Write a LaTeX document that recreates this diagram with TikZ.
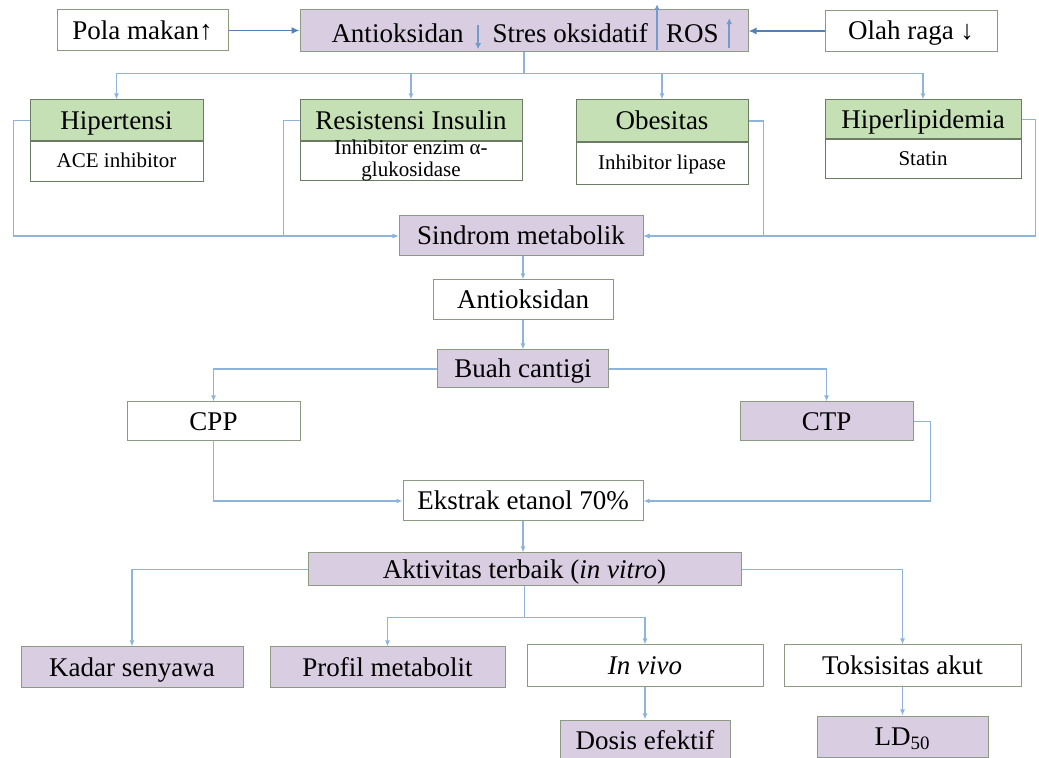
\documentclass[tikz,border=0pt]{standalone}
\usepackage{fontspec}
\setmainfont{Liberation Serif}
\usetikzlibrary{arrows.meta, positioning, calc}
\definecolor{clav}{HTML}{D9CDE1}
\definecolor{cgreen}{HTML}{C5E0B4}
\definecolor{cedge}{HTML}{8C9A84}
\definecolor{cline}{HTML}{8EB4DC}
\definecolor{cblue}{HTML}{4F81BD}
\tikzset{
  every picture/.style={line width=0.6pt},
  box/.style={draw=cedge, fill=#1, line width=0.5pt, inner sep=0pt, align=center, text height=11pt, text depth=2pt, font=\fontsize{13.5}{15}\selectfont},
  box/.default=white,
  headbox/.style={box=cgreen, draw=cgreen!55!black},
  subbox/.style={box, draw=cgreen!55!black, text height=8pt, text depth=2pt, font=\fontsize{10.5}{11}\selectfont},
  txt/.style={inner sep=0pt, font=\fontsize{13.5}{15}\selectfont},
  arrow/.style={-{Latex[length=3pt, width=2.5pt]}, draw=cline},
  link/.style={draw=cline},
  bigarrow/.style={-{Latex[length=4pt, width=3.5pt]}, draw=cblue, line width=0.9pt},
  updown/.style={-{Latex[length=3pt, width=3pt]}, draw=cblue!80, line width=1pt},
}

\begin{document}
\begin{tikzpicture}[x=0.5pt, y=-0.5pt]
  \useasboundingbox (0,0) rectangle (1039,758);
  % causes and oxidative stress
  \node[box, minimum width=85.5pt, minimum height=20.5pt] (pola) at (142.5,30.5) {Pola makan↑};
  \node[box=clav, minimum width=224pt, minimum height=21pt] (stres) at (524,31) {};
  \node[txt] (tAnti) at (397.5,33) {Antioksidan};
  \node[txt, base right=14pt of tAnti] (tStres) {Stres oksidatif};
  \node[txt, base right=8.5pt of tStres] (tRos) {ROS};
  \node[box, minimum width=86pt, minimum height=20.5pt] (olah) at (911,31) {Olah raga ↓};
  \draw[bigarrow] (pola.east) -- (pola.east -| stres.west);
  \draw[bigarrow] (olah.west) -- (olah.west -| stres.east);
  \draw[updown] ($(tAnti.base east)!.5!(tStres.base west)+(0,-17)$) -- ++(0,24);
  \draw[updown] ($(tStres.base east)!.5!(tRos.base west)+(0,8)$) -- ++(0,-46);
  \draw[updown] ($(tRos.base east)+(10,6)$) -- ++(0,-30);

  % the four disorders
  \node[headbox, minimum width=86.5pt, minimum height=20.5pt] (hip) at (116.5,120.5) {Hipertensi};
  \node[subbox, minimum width=86.5pt, minimum height=20pt, below=0pt of hip] (hipd) {ACE inhibitor};
  \node[headbox, minimum width=111pt, minimum height=20.5pt] (res) at (411,120.5) {Resistensi Insulin};
  \node[subbox, minimum width=111pt, minimum height=19.5pt, text height=0pt, text depth=0pt, below=0pt of res] (resd) {\raisebox{-2pt}{\smash{\parbox[c]{108pt}{\centering Inhibitor enzim α-\\glukosidase}}}};
  \node[headbox, minimum width=86pt, minimum height=21pt] (obe) at (662,121) {Obesitas};
  \node[subbox, minimum width=86pt, minimum height=21pt, below=0pt of obe] (obed) {Inhibitor lipase};
  \node[headbox, minimum width=98pt, minimum height=19.5pt] (hyp) at (923,119.5) {Hiperlipidemia};
  \node[subbox, minimum width=98pt, minimum height=19.5pt, below=0pt of hyp] (hypd) {Statin};
  \draw[link] (stres.south) -- ++(0,21) coordinate (split1);
  \foreach \n in {hip, res, obe, hyp} \draw[arrow] (split1) -| (\n.north);

  % metabolic syndrome
  \node[box=clav, minimum width=122pt, minimum height=20pt] (sind) at (521,236) {Sindrom metabolik};
  \foreach \n/\d in {hip/-16, res/-16} \draw[arrow] (\n.west) -- ++(\d,0) |- (sind.west);
  \foreach \n/\d in {obe/15, hyp/14} \draw[arrow] (\n.east) -- ++(\d,0) |- (sind.east);
  \node[box, minimum width=90pt, minimum height=20pt] (antiox) at (523,300) {Antioksidan};
  \node[box=clav, minimum width=85.5pt, minimum height=19pt] (buah) at (523,369) {Buah cantigi};
  \draw[arrow] (sind.south -| antiox.north) -- (antiox.north);
  \draw[arrow] (antiox.south) -- (buah.north);

  % extracts
  \node[box, minimum width=86.5pt, minimum height=19.5pt] (cpp) at (213.5,421.5) {CPP};
  \node[box=clav, minimum width=86.5pt, minimum height=19.5pt] (ctp) at (826.5,421.5) {CTP};
  \draw[arrow] (buah.west) -| (cpp.north);
  \draw[arrow] (buah.east) -| (ctp.north);
  \node[box, minimum width=120pt, minimum height=20pt] (ekst) at (523,501) {Ekstrak etanol 70\%};
  \draw[arrow] (cpp.south) |- (ekst.west);
  \draw[arrow] (ctp.east) -- ++(17,0) |- (ekst.east);
  \node[box=clav, minimum width=216.5pt, minimum height=16.5pt] (akt) at (524.5,569.5) {Aktivitas terbaik (\textit{in vitro})};
  \draw[arrow] (ekst.south) -- (ekst.south |- akt.north);

  % follow-up tests
  \node[box=clav, minimum width=111pt, minimum height=20.5pt] (kadar) at (132,667.5) {Kadar senyawa};
  \node[box=clav, minimum width=117.5pt, minimum height=20.5pt] (prof) at (387.5,667.5) {Profil metabolit};
  \node[box, minimum width=118pt, minimum height=21pt] (vivo) at (645,666) {\textit{In vivo}};
  \node[box, minimum width=118.5pt, minimum height=21pt] (toks) at (902.5,666) {Toksisitas akut};
  \node[box=clav, minimum width=85pt, minimum height=20pt] (dosis) at (645,740) {Dosis efektif};
  \node[box=clav, minimum width=85.5pt, minimum height=20.5pt] (ld) at (902.5,736.5) {LD\textsubscript{50}};
  \draw[arrow] (akt.west) -| (kadar.north);
  \draw[arrow] (akt.east) -| (toks.north);
  \draw[link] (akt.south) -- ++(0,31) coordinate (split2);
  \draw[arrow] (split2) -| (prof.north);
  \draw[arrow] (split2) -| (vivo.north);
  \draw[arrow] (vivo.south) -- (dosis.north);
  \draw[arrow] (toks.south) -- (ld.north);
\end{tikzpicture}
\end{document}
